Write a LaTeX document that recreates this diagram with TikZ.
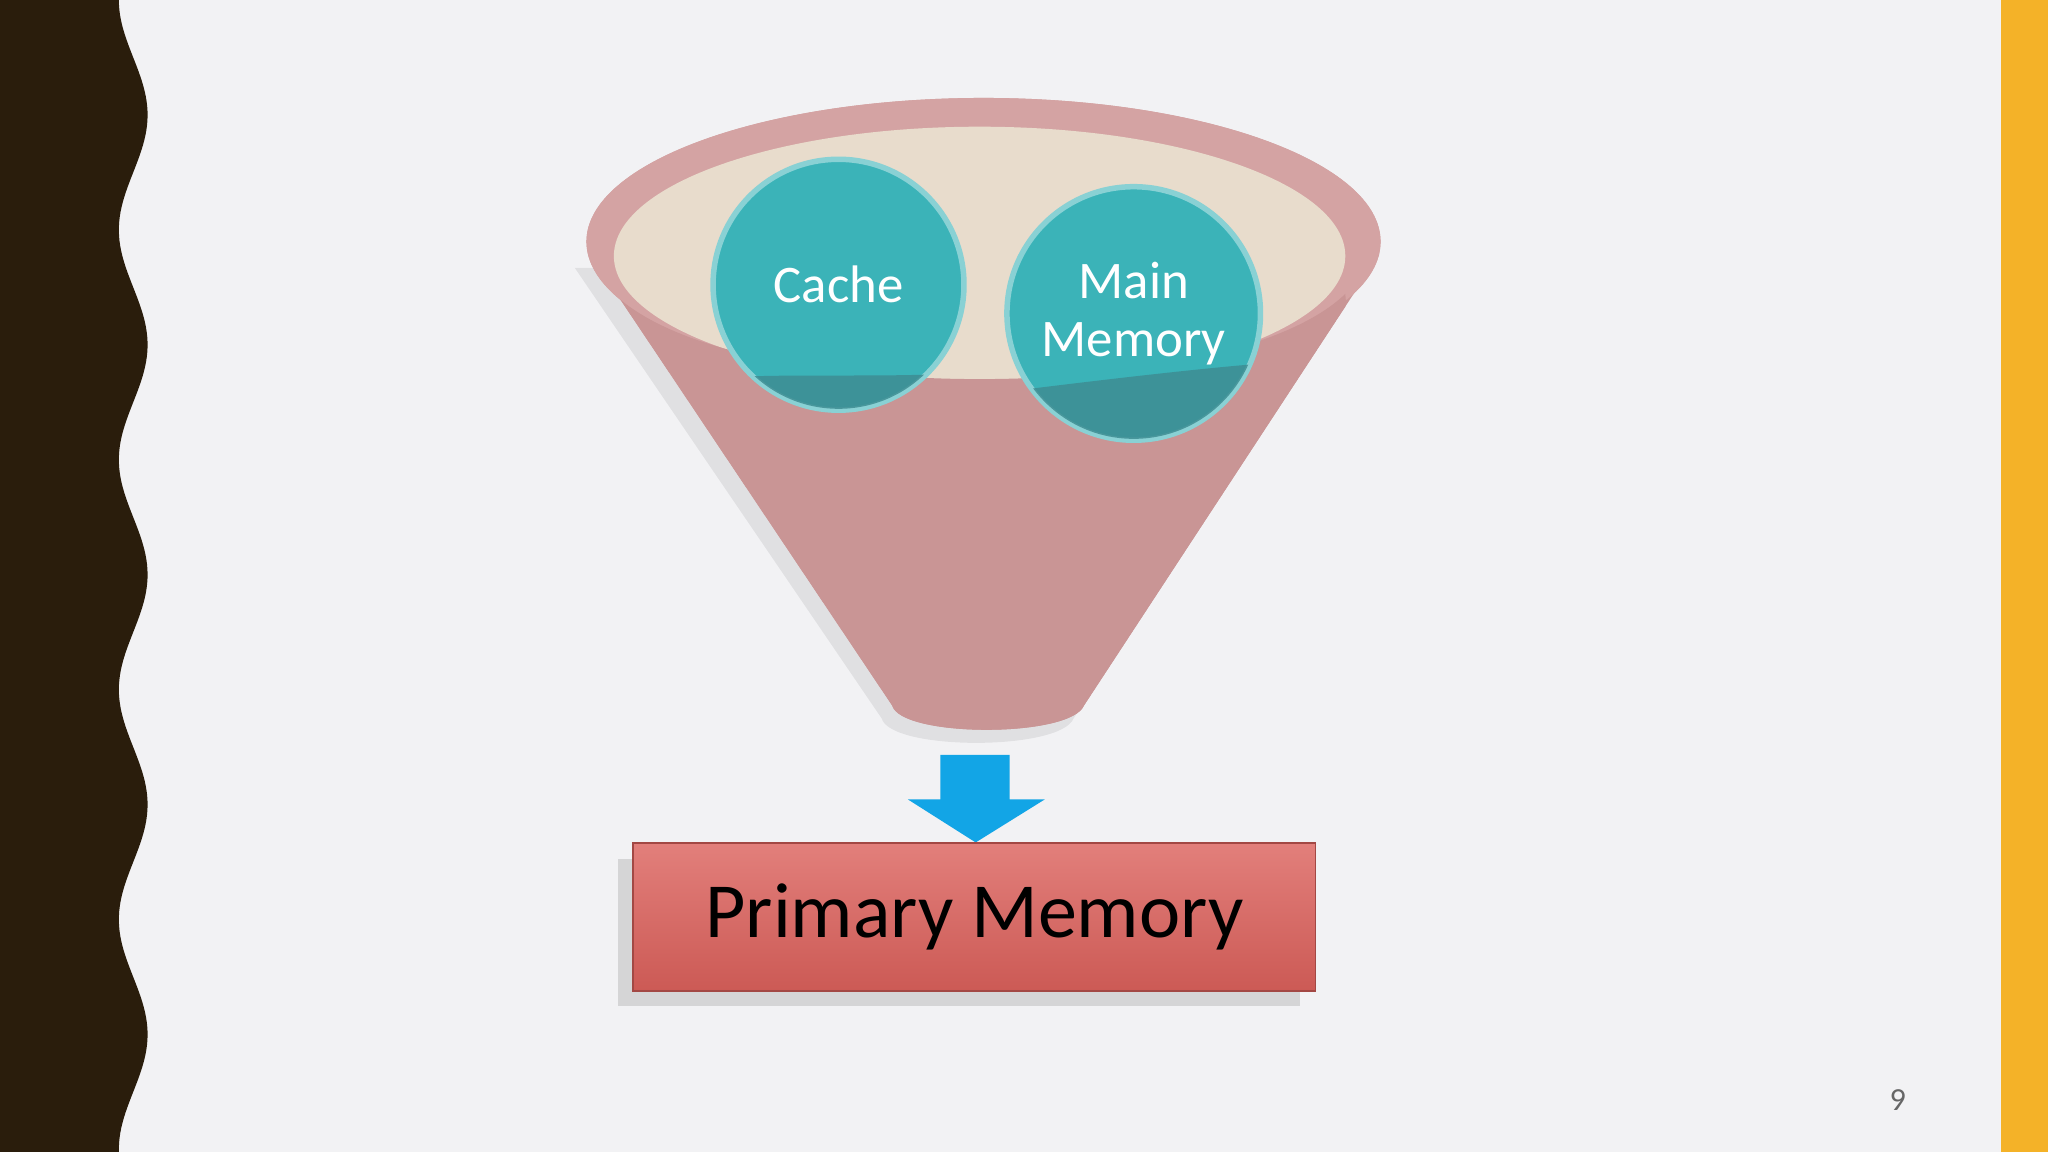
\documentclass[tikz,border=0pt]{standalone}
\usepackage{fontspec}
\setmainfont{Carlito}
\usetikzlibrary{shadows}
\definecolor{bg}{HTML}{F2F2F4}
\definecolor{dark}{HTML}{2A1D0C}
\definecolor{gold}{HTML}{F4B228}
\definecolor{funnel}{HTML}{C99595}
\definecolor{rim}{HTML}{D4A3A3}
\definecolor{beige}{HTML}{E8DCCC}
\definecolor{teal}{HTML}{3BB3B8}
\definecolor{tealdark}{HTML}{3E8D93}
\definecolor{arrowblue}{HTML}{12A5E6}
\definecolor{boxtop}{HTML}{E27F7B}
\definecolor{boxbot}{HTML}{CC5A55}
\tikzset{
  ball/.style={circle,minimum size=1.92cm,fill=teal,draw=teal!60!white,line width=1.2pt,text=white,font=\fontsize{11.5}{12.5}\selectfont,align=center,inner sep=0pt},
  primbox/.style={rectangle,minimum width=5.22cm,minimum height=1.13cm,top color=boxtop,bottom color=boxbot,draw=boxbot!80!black,line width=0.4pt,font=\fontsize{17}{20}\selectfont,drop shadow={shadow xshift=-0.12cm,shadow yshift=-0.12cm,opacity=0.25}}
}
\begin{document}
\begin{tikzpicture}[x=0.01cm,y=-0.01cm]
\useasboundingbox (0,0) rectangle (1568,882);
\fill[bg] (0,0) rectangle (1568,882);
% left wavy band
\fill[dark] (0,0) -- plot[domain=0:882,samples=240] ({102+11*cos(deg(2*pi*(\x-88)/176))},{\x}) -- (0,882) -- cycle;
\fill[gold] (1532,0) rectangle (1568,882);
% funnel shadow
\fill[black,opacity=0.07] (440,205) -- (675,550) .. controls (682,575) and (812,575) .. (822,550) -- (1045,205) -- cycle;
% funnel
\fill[rim] (753,185) ellipse[x radius=304,y radius=110];
\fill[funnel] (452,195) -- (683,540) .. controls (690,565) and (820,565) .. (830,540) -- (1056,195) -- cycle;
\fill[rim] (753,185) ellipse[x radius=304,y radius=110];
\fill[beige] (750,196) ellipse[x radius=280,y radius=99];
\begin{scope}
\clip (452,195) -- (683,540) .. controls (690,565) and (820,565) .. (830,540) -- (1056,195) -- cycle;
\fill[funnel] (470,225) .. controls (560,312) and (940,312) .. (1030,225) -- (1060,600) -- (450,600) -- cycle;
\end{scope}
% balls
\node[ball] (cache) at (642,218) {};
\node[ball,minimum size=1.94cm] (mm) at (868,240) {};
\begin{scope}
\clip (642,218) circle (95);
\fill[tealdark,opacity=0.85] (540,290) .. controls (600,285) and (680,290) .. (745,285) -- (745,320) -- (540,320) -- cycle;
\end{scope}
\begin{scope}
\clip (868,240) circle (96);
\fill[tealdark,opacity=0.85] (770,300) .. controls (850,290) and (920,282) .. (970,278) -- (970,345) -- (770,345) -- cycle;
\end{scope}
\node[ball,fill=none,draw=none] at (cache) {Cache};
\node[ball,fill=none,draw=none] at (mm) {Main\\Memory};
% arrow
\coordinate (tip) at (747,645);
\fill[arrowblue] (720,578) -- (773,578) -- (773,612) -- (800,612) -- (tip) -- (695,612) -- (720,612) -- cycle;
% box
\node[primbox] (prim) at (746,702) {Primary Memory};
\node[text=black!60,font=\fontsize{7}{8}\selectfont] (pg) at (1453,842) {9};
\end{tikzpicture}
\end{document}
